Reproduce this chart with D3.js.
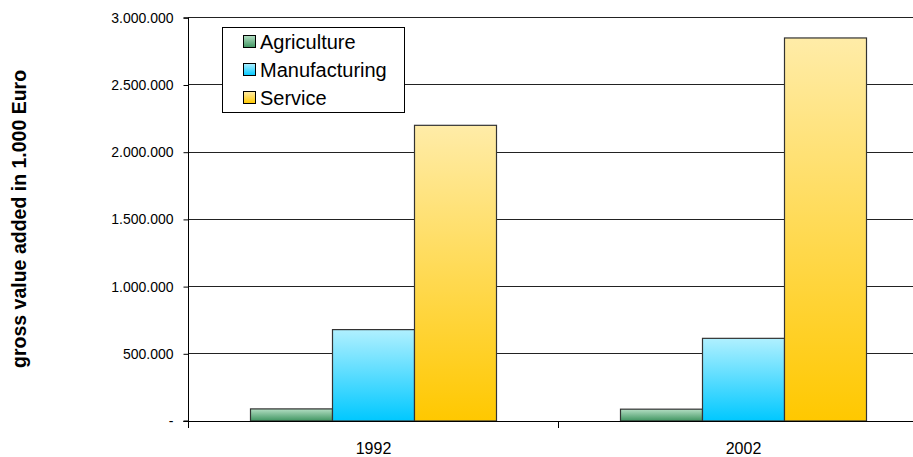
<!DOCTYPE html>
<html><head><meta charset="utf-8">
<script src="https://cdn.jsdelivr.net/npm/d3@7"></script>
<style>body{margin:0;background:#fff}svg{display:block;font-family:Arial,"Liberation Sans",sans-serif}</style>
</head><body><svg id="c" width="913" height="457"></svg>
<script>
const years = ["1992", "2002"];
const sectors = ["Agriculture", "Manufacturing", "Service"];
const agriculture = [90000, 88000];
const manufacturing = [680000, 615000];
const service = [2200000, 2850000];
const yTicks = [0, 500000, 1000000, 1500000, 2000000, 2500000, 3000000];
const yTickLabels = ["-", "500.000", "1.000.000", "1.500.000", "2.000.000", "2.500.000", "3.000.000"];
const seriesValues = [agriculture, manufacturing, service];

const svg = d3.select("#c");
const m = {l:188, r:928, t:17.3, b:420.5};
const x = d3.scaleBand().domain(years).range([m.l, m.r]).paddingInner(0).paddingOuter(0);
const xs = d3.scaleBand().domain(sectors).range([0, x.bandwidth()]).paddingInner(0).paddingOuter(62/82);
const y = d3.scaleLinear().domain([0, 3000000]).range([m.b, m.t]);

const grads = [
  ["gA", "#b4dfc4", "#3f9561"],
  ["gM", "#b0f0ff", "#00c8ff"],
  ["gS", "#ffeca8", "#ffc800"]
];
const defs = svg.append("defs");
grads.forEach(g => {
  const lg = defs.append("linearGradient").attr("id", g[0]).attr("x1",0).attr("y1",0).attr("x2",0).attr("y2",1);
  lg.append("stop").attr("offset","0%").attr("stop-color", g[1]);
  lg.append("stop").attr("offset","100%").attr("stop-color", g[2]);
});

// gridlines
svg.append("g").selectAll("line").data(yTicks.slice(1)).join("line")
  .attr("x1", m.l).attr("x2", 913).attr("y1", d => Math.round(y(d))+0.5).attr("y2", d => Math.round(y(d))+0.5)
  .attr("stroke", "#222").attr("stroke-width", 1);

// bars
const groups = svg.append("g").selectAll("g").data(years).join("g")
  .attr("transform", d => `translate(${x(d)},0)`);
groups.selectAll("rect").data((d, i) => sectors.map((s, k) => ({s, k, v: seriesValues[k][i]}))).join("rect")
  .attr("x", d => xs(d.s) + 0.5)
  .attr("y", d => y(d.v) + 0.5)
  .attr("width", xs.bandwidth())
  .attr("height", d => y(0) - y(d.v))
  .attr("fill", d => `url(#${grads[d.k][0]})`)
  .attr("stroke", "#333").attr("stroke-width", 1.2);

// y axis
const yAxis = d3.axisLeft(y).tickValues(yTicks).tickFormat((d, i) => yTickLabels[i]).tickSize(5).tickPadding(10);
const ya = svg.append("g").attr("transform", `translate(${m.l+0.5},0.5)`).call(yAxis);
ya.select(".domain").attr("stroke", "#000").attr("d", `M-5,${y(3000000)}H0V${y(0)}H-5`);
ya.selectAll(".tick line").attr("stroke", "#000");
ya.selectAll("text").attr("font-size", 14).attr("fill", "#000").attr("font-family", "Arial, 'Liberation Sans', sans-serif");

// x axis
const xAxis = d3.axisBottom(x).tickSize(0).tickPadding(21);
const xa = svg.append("g").attr("transform", `translate(0.5,${Math.round(m.b)+0.5})`).call(xAxis);
xa.select(".domain").attr("stroke", "#000").attr("d", `M${m.l-5},0H913`);
xa.selectAll("text").attr("font-size", 16).attr("fill", "#000").attr("font-family", "Arial, 'Liberation Sans', sans-serif");
// category separator ticks
svg.append("g").selectAll("line").data(years).join("line")
  .attr("x1", d => x(d)+0.5).attr("x2", d => x(d)+0.5)
  .attr("y1", Math.round(m.b)).attr("y2", Math.round(m.b)+7)
  .attr("stroke", "#000");

// y title
svg.append("text")
  .attr("transform", `translate(26,${(m.t+m.b)/2}) rotate(-90)`)
  .attr("text-anchor", "middle")
  .attr("font-size", 19.5).attr("font-weight", "bold")
  .text("gross value added in 1.000 Euro");

// legend
const lg = svg.append("g").attr("transform", "translate(222,27)");
lg.append("rect").attr("x", 0.5).attr("y", 0.5).attr("width", 182).attr("height", 85)
  .attr("fill", "#fff").attr("stroke", "#000");
const li = lg.selectAll("g").data(sectors).join("g")
  .attr("transform", (d, i) => `translate(21,${15 + i*28})`);
li.append("rect").attr("x", 0.5).attr("y", -6.5).attr("width", 12).attr("height", 12)
  .attr("fill", (d, i) => `url(#${grads[i][0]})`).attr("stroke", "#000");
li.append("text").attr("x", 17).attr("y", 0).attr("dy", "0.35em")
  .attr("font-size", 20).text(d => d);
</script></body></html>
